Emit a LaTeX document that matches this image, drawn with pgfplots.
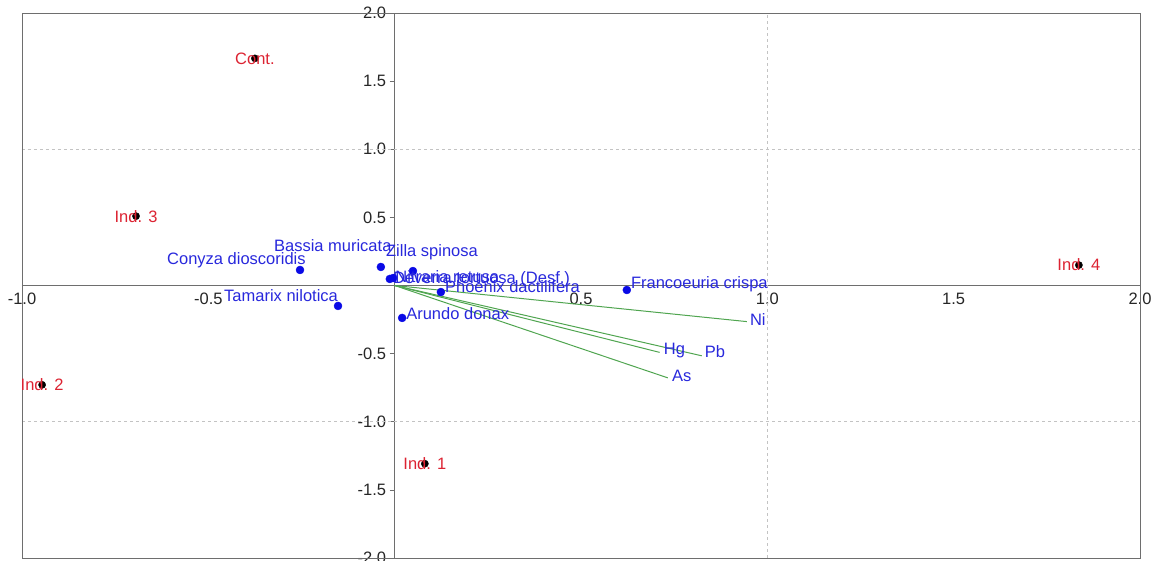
\documentclass[border=0pt]{standalone}
\usepackage{pgfplots}
\usepackage{pgfplotstable}
\pgfplotsset{compat=1.18}
\usepackage{fontspec}
\setmainfont{Liberation Sans}
\definecolor{lblblue}{RGB}{40,40,220}
\definecolor{dotblue}{RGB}{10,10,230}
\definecolor{lblred}{RGB}{220,35,50}
\definecolor{vecgreen}{RGB}{80,165,80}
\definecolor{framegray}{RGB}{110,110,110}
\definecolor{gridgray}{RGB}{195,195,195}
\newcommand{\lbl}{\fontsize{16.5}{19}\selectfont}

\pgfplotstableread[col sep=comma]{
x,y,dx,dy,label
-0.254,0.114,-133,10,Conyza dioscoridis
-0.037,0.136,-107,21,Bassia muricata
0.049,0.106,-27,19,Zilla spinosa
-0.152,-0.150,-114,10,Tamarix nilotica
0.020,-0.238,4,4,Arundo donax
0.124,-0.048,4,5,Phoenix dactilifera
0.623,-0.033,4,6,Francoeuria crispa
-0.013,0.048,3,0,Deverra tortuosa (Desf.)
-0.004,0.055,2,1,Nitraria retusa
}\species

\pgfplotstableread[col sep=comma]{
x,y,label
-0.375,1.667,Cont.
-0.694,0.509,Ind. 3
-0.946,-0.729,Ind. 2
0.081,-1.308,Ind. 1
1.836,0.150,Ind. 4
}\sites

\pgfplotstableread[col sep=comma]{
x,y,dx,dy,label
0.945,-0.265,3,2,Ni
0.711,-0.491,4,2,Hg
0.824,-0.516,3,4,Pb
0.733,-0.678,4,2,As
}\vectors

\begin{document}
\begin{tikzpicture}
\begin{axis}[
  scale only axis,
  width=1118pt, height=545pt,
  xmin=-1, xmax=2, ymin=-2, ymax=2,
  axis lines=middle,
  axis line style={-, framegray, line width=0.8pt},
  xtick={-1,-0.5,0.5,1,1.5,2},
  ytick={-2,-1.5,-1,-0.5,0.5,1,1.5,2},
  xtick style={draw=none},
  ytick style={framegray, line width=0.6pt},
  tick align=outside,
  major tick length=5pt,
  /pgf/number format/assume math mode=true,
  /pgf/number format/fixed,
  /pgf/number format/fixed zerofill,
  /pgf/number format/precision=1,
  tick label style={font=\lbl, text=black!85},
  xticklabel style={anchor=north, yshift=1pt},
  yticklabel style={anchor=east, xshift=0pt},
  clip=false,
]
% grid
\draw[gridgray, dashed, line width=0.7pt] (axis cs:1,-2) -- (axis cs:1,2);
\draw[gridgray, dashed, line width=0.7pt] (axis cs:-1,1) -- (axis cs:2,1);
\draw[gridgray, dashed, line width=0.7pt] (axis cs:-1,-1) -- (axis cs:2,-1);
\draw[framegray, line width=0.8pt] (rel axis cs:0,0) rectangle (rel axis cs:1,1);
% vectors
\addplot[vecgreen, line width=1pt] coordinates {(0,0) (0.945,-0.265)};
\addplot[vecgreen, line width=1pt] coordinates {(0,0) (0.711,-0.491)};
\addplot[vecgreen, line width=1pt] coordinates {(0,0) (0.824,-0.516)};
\addplot[vecgreen, line width=1pt] coordinates {(0,0) (0.733,-0.678)};
\addplot[draw=none, mark=none, nodes near coords, point meta=explicit symbolic,
  visualization depends on={\thisrow{dx}\as\ddx},
  visualization depends on={\thisrow{dy}\as\ddy},
  every node near coord/.append style={anchor=west, xshift=\ddx pt, yshift=\ddy pt, inner sep=0pt, text=lblblue, font=\lbl}]
  table[x=x, y=y, meta=label]{\vectors};
% species
\addplot[only marks, mark=*, mark size=4pt, color=dotblue, nodes near coords, point meta=explicit symbolic,
  visualization depends on={\thisrow{dx}\as\ddx},
  visualization depends on={\thisrow{dy}\as\ddy},
  every node near coord/.append style={anchor=west, xshift=\ddx pt, yshift=\ddy pt, inner sep=0pt, text=lblblue, font=\lbl}]
  table[x=x, y=y, meta=label]{\species};
% sites
\addplot[only marks, mark=*, mark size=3.6pt, color=black, nodes near coords, point meta=explicit symbolic,
  every node near coord/.append style={anchor=center, inner sep=0pt, text=lblred, font=\lbl}]
  table[x=x, y=y, meta=label]{\sites};
\end{axis}
\pgfresetboundingbox
\useasboundingbox ([xshift=-22pt,yshift=-3pt]current axis.south west) rectangle ([xshift=18pt,yshift=13pt]current axis.north east);
\end{tikzpicture}
\end{document}
